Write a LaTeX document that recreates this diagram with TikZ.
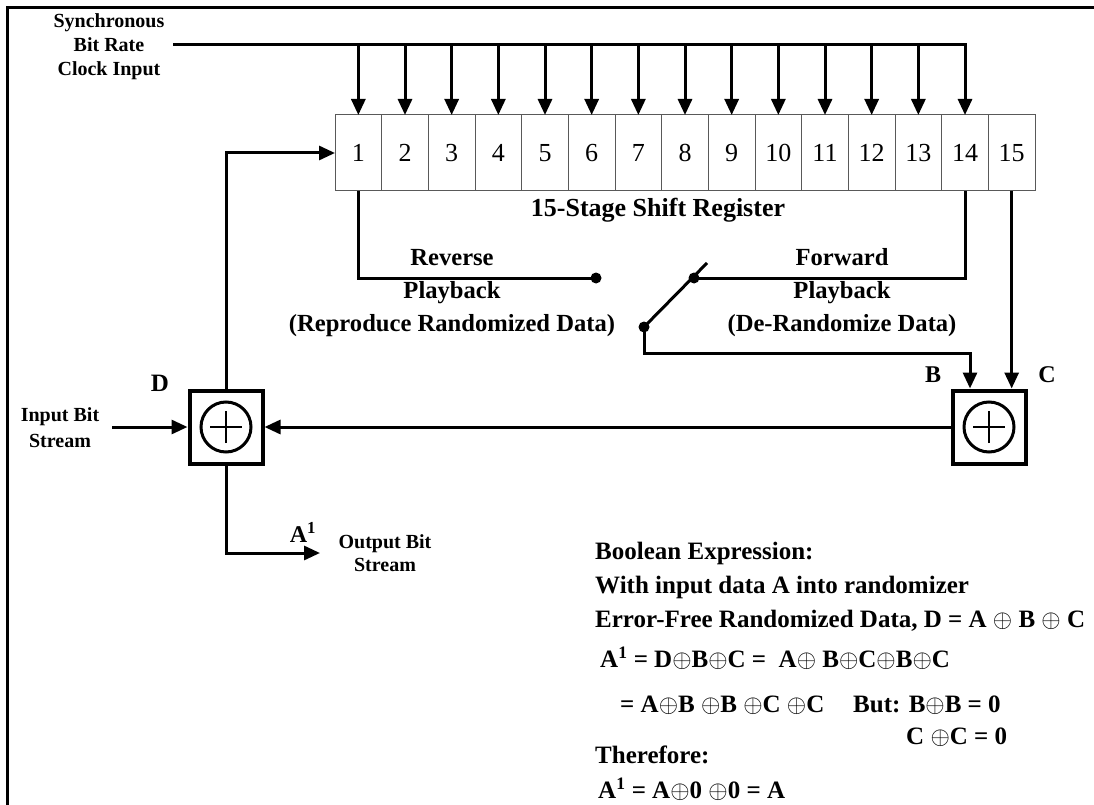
\documentclass[tikz,border=0pt]{standalone}
\usepackage{fontspec}
\setmainfont{Liberation Serif}
\usetikzlibrary{arrows.meta,calc}
\begin{document}
\begin{tikzpicture}[x=1pt,y=-1pt,
  wire/.style={line width=3pt},
  arr/.style={wire,-{Triangle[length=16pt,width=14pt]}},
  cell/.style={draw=black!65,line width=1pt,minimum width=46.67pt,minimum height=76pt,inner sep=0pt,outer sep=0pt,font=\fontsize{26}{26}\selectfont},
  xorbox/.style={draw,line width=4pt,minimum size=73pt,inner sep=0pt},
  xorcirc/.style={draw,circle,line width=3pt,minimum size=50pt,inner sep=0pt},
  lbl/.style={font=\bfseries\fontsize{24.6}{33}\selectfont,align=center},
  small/.style={font=\bfseries\fontsize{20}{24}\selectfont,align=center},
  letter/.style={font=\bfseries\fontsize{24}{24}\selectfont},
  eq/.style={font=\bfseries\fontsize{25}{25}\selectfont,anchor=west,inner sep=0pt},
  dot/.style={circle,fill,inner sep=0pt,minimum size=11pt}
]
\useasboundingbox (0,0) rectangle (1094,805);
\draw[line width=3pt] (7,805) -- (7,8) -- (1094,8);

% shift register
\foreach \i in {1,...,15}
  \node[cell] (c\i) at ({335+46.667*(\i-0.5)},153) {\i};
\node[lbl,font=\bfseries\fontsize{26}{26}\selectfont] (reglbl) at (658,210) {15-Stage Shift Register};

% clock
\node[small] (sync) at (109,47) {Synchronous\\Bit Rate\\Clock Input};
\coordinate (clk) at (173,45);
\draw[arr] (clk) -- (c14.north |- clk) -- (c14.north);
\foreach \i in {1,...,13}
  \draw[arr] (c\i.north |- clk) -- (c\i.north);

% XOR gates
\node[xorbox] (xorL) at (226,427) {};
\node[xorcirc] (oL) at (xorL.center) {};
\draw[line width=2.5pt] ([xshift=-16pt]oL.center) -- ([xshift=16pt]oL.center)
  ([yshift=-16pt]oL.center) -- ([yshift=16pt]oL.center);
\node[xorbox] (xorR) at (989,427) {};
\node[xorcirc] (oR) at (xorR.center) {};
\draw[line width=2.5pt] ([xshift=-16pt]oR.center) -- ([xshift=16pt]oR.center)
  ([yshift=-16pt]oR.center) -- ([yshift=16pt]oR.center);

\node[letter,font=\bfseries\fontsize{25}{25}\selectfont] (lD) at (160,383) {D};
\node[letter] (lB) at (933,375) {B};
\node[letter] (lC) at (1047,375) {C};

% input / output
\node[small,font=\bfseries\fontsize{20}{26}\selectfont] (inlbl) at (60,428) {Input Bit\\Stream};
\coordinate (inp) at (112,427);
\draw[arr] (inp) -- (xorL.west);
\draw[arr] (xorR.west) -- (xorL.east);
\draw[arr] (xorL.north) |- (c1.west);
\coordinate (outend) at (320,553);
\draw[arr] (xorL.south) |- (outend);
\node[letter] (lA) at (303,532) {A\textsuperscript{1}};
\node[small,font=\bfseries\fontsize{20}{23}\selectfont] (outlbl) at (385,553) {Output Bit\\Stream};

% switch
\node[dot] (rdot) at (596,278) {};
\node[dot] (pivot) at (644,327) {};
\node[dot] (fdot) at (694,278) {};
\coordinate (swtip) at (707,263);
\draw[wire] (c1.south) |- (rdot.center);
\draw[wire] (pivot.center) -- (swtip);
\draw[wire] (fdot.center) -| (c14.south);
\coordinate (bturn) at (644,353);
\draw[arr] (pivot.center) -- (bturn) -| ([xshift=-19pt]xorR.north);
\draw[arr] (c15.south) -- (c15.south |- xorR.north);

\node[lbl] (revlbl) at (452,293) {Reverse\\Playback\\(Reproduce Randomized Data)};
\node[lbl] (fwdlbl) at (842,293) {Forward\\Playback\\(De-Randomize Data)};

% equations
\node[eq] (e1) at (595,553) {Boolean Expression:};
\node[eq] (e2) at (595,587) {With input data A into randomizer};
\node[eq] (e3) at (595,621) {Error-Free Randomized Data, D = A $\oplus$ B $\oplus$ C};
\node[eq] (e4) at (600,658) {A\textsuperscript{1} = D$\oplus$B$\oplus$C = \ A$\oplus$ B$\oplus$C$\oplus$B$\oplus$C};
\node[eq] (e5) at (620,705) {= A$\oplus$B $\oplus$B $\oplus$C $\oplus$C};
\node[eq] (e6) at (853,705) {But: B$\oplus$B = 0};
\node[eq] (e7) at (906,737) {C $\oplus$C = 0};
\node[eq] (e8) at (595,755) {Therefore:};
\node[eq] (e9) at (598,789) {A\textsuperscript{1} = A$\oplus$0 $\oplus$0 = A};
\end{tikzpicture}
\end{document}
